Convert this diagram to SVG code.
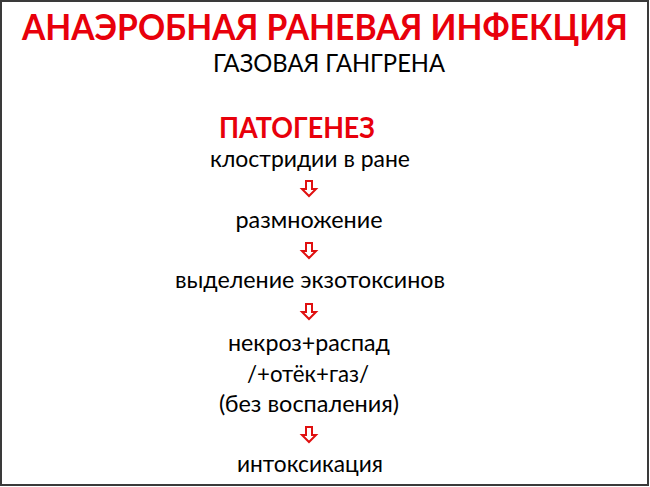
<svg xmlns="http://www.w3.org/2000/svg" width="650" height="487" viewBox="0 0 650 487">
<style>
.t{font-family:"Lato","Open Sans","Liberation Sans",sans-serif;text-anchor:middle;}
.red{fill:#e8000b;font-weight:bold;}
.blk{fill:#000;}
.arr{fill:#fff;stroke:#e01010;stroke-width:2;stroke-linejoin:miter;}
</style>
<defs>
<path id="dn" d="M-3,0 H3 V8 H7 L0,15 L-7,8 H-3 Z"/>
</defs>
<rect x="0" y="0" width="650" height="487" fill="#fff"/>
<rect x="1" y="1" width="647" height="484" fill="none" stroke="#3a3a3a" stroke-width="2"/>
<g id="title"><text class="t red" x="325" y="40" font-size="36" textLength="606" lengthAdjust="spacingAndGlyphs">АНАЭРОБНАЯ РАНЕВАЯ ИНФЕКЦИЯ</text></g>
<g id="subtitle"><text class="t blk" x="329" y="72" font-size="25" textLength="232" lengthAdjust="spacingAndGlyphs">ГАЗОВАЯ ГАНГРЕНА</text></g>
<g id="pathogenesis"><text class="t red" x="297" y="138" font-size="28" textLength="156" lengthAdjust="spacingAndGlyphs">ПАТОГЕНЕЗ</text></g>
<g id="n1"><text class="t blk" x="310" y="167" font-size="23" textLength="200" lengthAdjust="spacingAndGlyphs">клостридии в ране</text></g>
<g id="n2"><text class="t blk" x="309" y="228" font-size="23" textLength="147" lengthAdjust="spacingAndGlyphs">размножение</text></g>
<g id="n3"><text class="t blk" x="310" y="288" font-size="23" textLength="270" lengthAdjust="spacingAndGlyphs">выделение экзотоксинов</text></g>
<g id="n4">
<text class="t blk" x="309" y="351" font-size="23" textLength="162" lengthAdjust="spacingAndGlyphs">некроз+распад</text>
<text class="t blk" x="308" y="382" font-size="23" textLength="122" lengthAdjust="spacingAndGlyphs">/+отёк+газ/</text>
<text class="t blk" x="309" y="412" font-size="23" textLength="180" lengthAdjust="spacingAndGlyphs">(без воспаления)</text>
</g>
<g id="n5"><text class="t blk" x="310" y="472" font-size="23" textLength="146" lengthAdjust="spacingAndGlyphs">интоксикация</text></g>
<g id="connectors">
<use href="#dn" class="arr" x="309" y="181"/>
<use href="#dn" class="arr" x="309" y="243"/>
<use href="#dn" class="arr" x="309" y="304"/>
<use href="#dn" class="arr" x="309" y="427"/>
</g>
</svg>
